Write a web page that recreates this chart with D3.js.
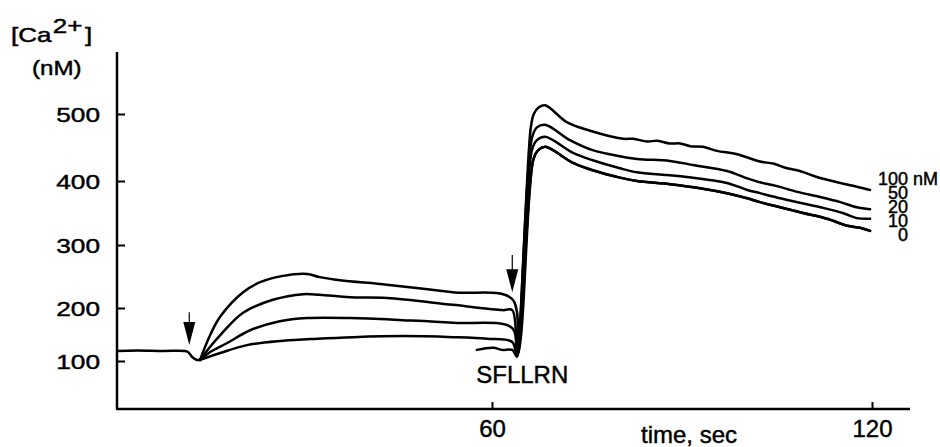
<!DOCTYPE html>
<html>
<head>
<meta charset="utf-8">
<script src="https://d3js.org/d3.v7.min.js"></script>
<style>
  html, body { margin: 0; padding: 0; background: #fff; }
  svg { display: block; }
  text { font-family: "Liberation Sans", Arial, Helvetica, sans-serif; fill: #000; stroke: #000; stroke-width: 0.45px; }
</style>
</head>
<body>
<svg id="chart" width="940" height="447"></svg>
<script>
// --- DATA: [time (s), Ca2+ (nM)] ---
const baseline = [[0.8, 119], [4, 120], [8, 119], [11.5, 119], [12.0, 117], [12.8, 106], [13.4, 102], [13.9, 102]];

// first stimulus (before SFLLRN), one per concentration
const phase1_100 = [[13.9, 102], [15.5, 149], [17.1, 184], [20.7, 225], [23.4, 241], [27.0, 251], [30.8, 254], [32.8, 249], [36.0, 244], [43.4, 237], [53.8, 225], [63.2, 214], [63.95, 109]];
const phase1_50 = [[13.9, 102], [15.5, 127], [17.1, 149], [20.7, 191], [25.4, 213], [30.2, 222], [32.8, 221], [37.6, 217], [43.4, 216], [53.8, 205], [61.7, 196], [63.2, 196], [63.95, 109]];
const phase1_20 = [[13.9, 102], [15.5, 117], [18.2, 134], [21.8, 158], [26.5, 175], [30.8, 181], [37.6, 181], [45.9, 177], [53.8, 172], [63.2, 162], [63.95, 109]];
const phase1_10 = [[13.9, 102], [17.1, 115], [21.3, 130], [27.0, 138], [32.4, 142], [38.1, 145], [45.9, 147], [53.8, 145], [59.2, 142], [63.2, 136], [63.95, 109]];
const phase1_0 = [[57.6, 121], [60.2, 125], [61.6, 121], [63.2, 121], [63.95, 109]];

// SFLLRN response
const rise_100 = [[66.1, 478], [66.6, 500], [67.4, 510], [68.4, 513], [71.8, 488], [75.5, 475], [80.7, 463], [82.3, 463], [84.5, 459], [86.1, 460], [88.1, 456], [89.7, 456], [91.3, 452], [93.3, 451], [95.5, 445], [98.7, 440], [102.3, 429], [104.4, 426], [106.6, 419], [108.6, 415], [111.3, 406], [115.0, 397], [117.6, 391], [119.7, 386]];
const rise_50 = [[66.3, 464], [67.1, 480], [68.4, 484], [72.3, 461], [75.9, 446], [80.2, 437], [82.9, 433], [88.1, 430], [91.7, 424], [97.1, 415], [100.3, 404], [102.3, 398], [105.0, 392], [108.2, 383], [111.8, 375], [115.0, 367], [117.6, 359], [119.7, 356]];
const rise_20 = [[66.3, 446], [67.1, 461], [68.4, 466], [72.8, 442], [75.9, 431], [80.2, 419], [82.9, 413], [87.6, 409], [90.8, 406], [97.1, 397], [100.3, 386], [102.3, 381], [105.5, 373], [108.6, 366], [112.3, 358], [115.4, 350], [117.6, 342], [119.7, 341]];
const rise_10 = [[66.5, 431], [67.3, 446], [68.4, 451], [72.8, 427], [75.9, 416], [80.2, 405], [82.9, 400], [88.1, 395], [93.3, 388], [97.1, 381], [100.3, 373], [102.3, 367], [105.5, 359], [109.1, 350], [112.9, 341], [116.1, 330], [118.1, 327], [119.7, 322]];

const seriesLabels = ["100", "50", "20", "10", "0"];
const yTicks = [100, 200, 300, 400, 500];
const xTicks = [60, 120];

// stimulus arrows: time, tail value, tip value
const arrowTimes = [12.2, 63.2];
const arrowTails = [192, 284];
const arrowTips = [130, 225];

// --- LAYOUT ---
const axisLeftX = 117, axisRightX = 910, axisTopY = 52, axisBottomY = 409;

const x = d3.scaleLinear().domain([0, 120]).range([112, 872]);
// fura-2 calibration: the concentration axis is not linear
const y = d3.scaleLinear().domain(yTicks).range([361, 308, 245, 181, 114]);

const svg = d3.select("#chart");

// --- AXES ---
svg.append("line")
    .attr("x1", axisLeftX).attr("x2", axisLeftX)
    .attr("y1", axisTopY).attr("y2", axisBottomY)
    .attr("stroke", "#000").attr("stroke-width", 2.5);
svg.append("line")
    .attr("x1", axisLeftX - 1).attr("x2", axisRightX)
    .attr("y1", axisBottomY).attr("y2", axisBottomY)
    .attr("stroke", "#000").attr("stroke-width", 2.5);

const yAxis = svg.append("g")
    .attr("transform", `translate(${axisLeftX},0)`)
    .call(d3.axisLeft(y).tickValues(yTicks).tickSize(-8).tickSizeOuter(0));
yAxis.select(".domain").remove();
yAxis.selectAll(".tick line").attr("stroke", "#000").attr("stroke-width", 2);
yAxis.selectAll(".tick text")
    .attr("x", null).attr("dy", null)
    .attr("font-size", 21)
    .attr("fill", "#000")
    .attr("text-anchor", "end")
    .attr("transform", "translate(-17,7.5) scale(1.25,1)");

const xAxis = svg.append("g")
    .attr("transform", `translate(0,${axisBottomY})`)
    .call(d3.axisBottom(x).tickValues(xTicks).tickSize(-7).tickSizeOuter(0).tickPadding(11));
xAxis.select(".domain").remove();
xAxis.selectAll(".tick line").attr("stroke", "#000").attr("stroke-width", 2);
xAxis.selectAll(".tick text").attr("font-size", 24).attr("fill", "#000");

svg.append("text")
    .attr("x", 689).attr("y", 443)
    .attr("text-anchor", "middle")
    .attr("font-size", 24)
    .text("time, sec");

// y title: [Ca2+] (nM)
const yTitle = svg.append("text")
    .attr("font-size", 20)
    .attr("transform", "translate(11,42) scale(1.3,1)");
yTitle.append("tspan").text("[Ca");
yTitle.append("tspan").attr("dx", 1).attr("dy", -9).text("2+");
yTitle.append("tspan").attr("dx", 2).attr("dy", 9).text("]");

svg.append("text")
    .attr("font-size", 21)
    .attr("transform", "translate(32,75) scale(1.15,1)")
    .text("(nM)");

// --- TRACES ---
const line = d3.line()
    .x(d => x(d[0]))
    .y(d => y(d[1]))
    .curve(d3.curveCatmullRom.alpha(0.5));

const traces = [
    baseline,
    phase1_100.concat(rise_100),
    phase1_50.concat(rise_50),
    phase1_20.concat(rise_20),
    phase1_10.concat(rise_10),
    phase1_0.concat(rise_10)
];

svg.append("g")
    .selectAll("path")
    .data(traces)
    .join("path")
    .attr("d", line)
    .attr("fill", "none")
    .attr("stroke", "#000")
    .attr("stroke-width", 2.5)
    .attr("stroke-linejoin", "round")
    .attr("stroke-linecap", "round");

// --- ARROWS ---
const headLen = 23, headHalf = 6;
const arrows = svg.append("g")
    .selectAll("g")
    .data(arrowTimes.map((t, i) => ({ t, tail: arrowTails[i], tip: arrowTips[i] })))
    .join("g");
arrows.append("line")
    .attr("x1", d => x(d.t)).attr("x2", d => x(d.t))
    .attr("y1", d => y(d.tail)).attr("y2", d => y(d.tip) - headLen + 1)
    .attr("stroke", "#000").attr("stroke-width", 1.2);
arrows.append("path")
    .attr("d", d => {
        const cx = x(d.t), ty = y(d.tip);
        return `M${cx - headHalf},${ty - headLen}L${cx + headHalf},${ty - headLen}L${cx},${ty}Z`;
    })
    .attr("fill", "#000");

svg.append("text")
    .attr("x", x(arrowTimes[1]) + 10)
    .attr("y", 383)
    .attr("text-anchor", "middle")
    .attr("font-size", 24)
    .text("SFLLRN");

// --- CONCENTRATION LABELS ---
const labelX = 908, labelY0 = 185, labelStep = 14;
svg.append("g")
    .selectAll("text")
    .data(seriesLabels)
    .join("text")
    .attr("x", labelX)
    .attr("y", (d, i) => labelY0 + i * labelStep)
    .attr("text-anchor", "end")
    .attr("font-size", 18)
    .text(d => d);
svg.append("text")
    .attr("x", labelX + 5)
    .attr("y", labelY0)
    .attr("font-size", 18)
    .text("nM");
</script>
</body>
</html>
